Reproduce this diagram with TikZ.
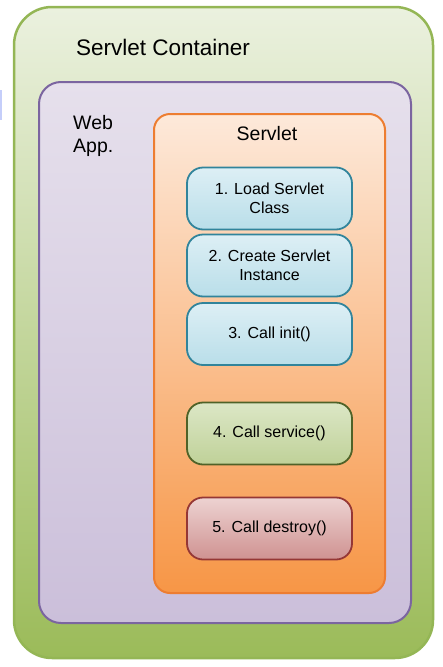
\documentclass[tikz,border=0pt]{standalone}
\usepackage{fontspec}
\setmainfont{Liberation Sans}
\definecolor{contline}{HTML}{94B655}
\definecolor{conttop}{HTML}{EBF1DF}
\definecolor{contbottom}{HTML}{9BBB59}
\definecolor{webline}{HTML}{7B65A0}
\definecolor{webtop}{HTML}{E6E0EC}
\definecolor{webbottom}{HTML}{CBBFDA}
\definecolor{servline}{HTML}{ED7D31}
\definecolor{servtop}{HTML}{FDE9DA}
\definecolor{servbottom}{HTML}{F79646}
\definecolor{blueline}{HTML}{31849B}
\definecolor{bluetop}{HTML}{DDEFF5}
\definecolor{bluebottom}{HTML}{B9DEE9}
\definecolor{greenline}{HTML}{4F6228}
\definecolor{greentop}{HTML}{DCE7C6}
\definecolor{greenbottom}{HTML}{BFD198}
\definecolor{redline}{HTML}{953735}
\definecolor{redtop}{HTML}{EDD3D2}
\definecolor{redbottom}{HTML}{CF9291}
\tikzset{
  frame/.style={draw,rounded corners=#1,inner sep=0pt},
  stepbox/.style={draw,rounded corners=16pt,line width=1.8pt,inner sep=0pt,
    minimum width=165pt,minimum height=62pt,align=center,
    font=\fontsize{16}{19}\selectfont},
  initbox/.style={stepbox,draw=blueline,top color=bluetop,bottom color=bluebottom},
  title/.style={inner sep=0pt,text=black}
}
\begin{document}
\begin{tikzpicture}[x=1pt,y=-1pt]
\useasboundingbox (0,0) rectangle (442,667);

%%%Containers
%Servlet container, web app, servlet
\node[frame=38pt,line width=2.5pt,draw=contline,top color=conttop,bottom color=contbottom,
  minimum width=419pt,minimum height=651pt] (container) at (223.5,332.5) {};
\node[frame=22pt,line width=2pt,draw=webline,top color=webtop,bottom color=webbottom,
  minimum width=372pt,minimum height=541pt] (webapp) at (225,352.5) {};
\node[frame=16pt,line width=2pt,draw=servline,top color=servtop,bottom color=servbottom,
  minimum width=231pt,minimum height=479pt] (servlet) at (269.5,353.5) {};

%Stray mark at the left edge
\fill[bluebottom!60!blue!40!white] (0,90) rectangle (2,120);

%%%Titles
\node[title,anchor=base west,font=\fontsize{22.5}{26}\selectfont] (containerlabel) at (76,55) {Servlet Container};
\node[title,anchor=north west,align=left,font=\fontsize{19.5}{23}\selectfont] (webapplabel) at (73,115.5) {Web\\App.};
\node[title,anchor=base,font=\fontsize{19.5}{23}\selectfont] (servletlabel) at (267,140) {Servlet};

%%%Life cycle steps
%Loading and init
\foreach \y/\t/\n in {198.5/{1. Load Servlet\\Class}/load,265.5/{2. Create Servlet\\Instance}/create,334/{3. Call init()}/init}
  \node[initbox] (\n) at (269.5,\y) {\t};
%Service and destroy
\node[stepbox,draw=greenline,top color=greentop,bottom color=greenbottom] (service) at (269.5,433.5) {4. Call service()};
\node[stepbox,draw=redline,top color=redtop,bottom color=redbottom] (destroy) at (269.5,528.5) {5. Call destroy()};

\end{tikzpicture}
\end{document}
